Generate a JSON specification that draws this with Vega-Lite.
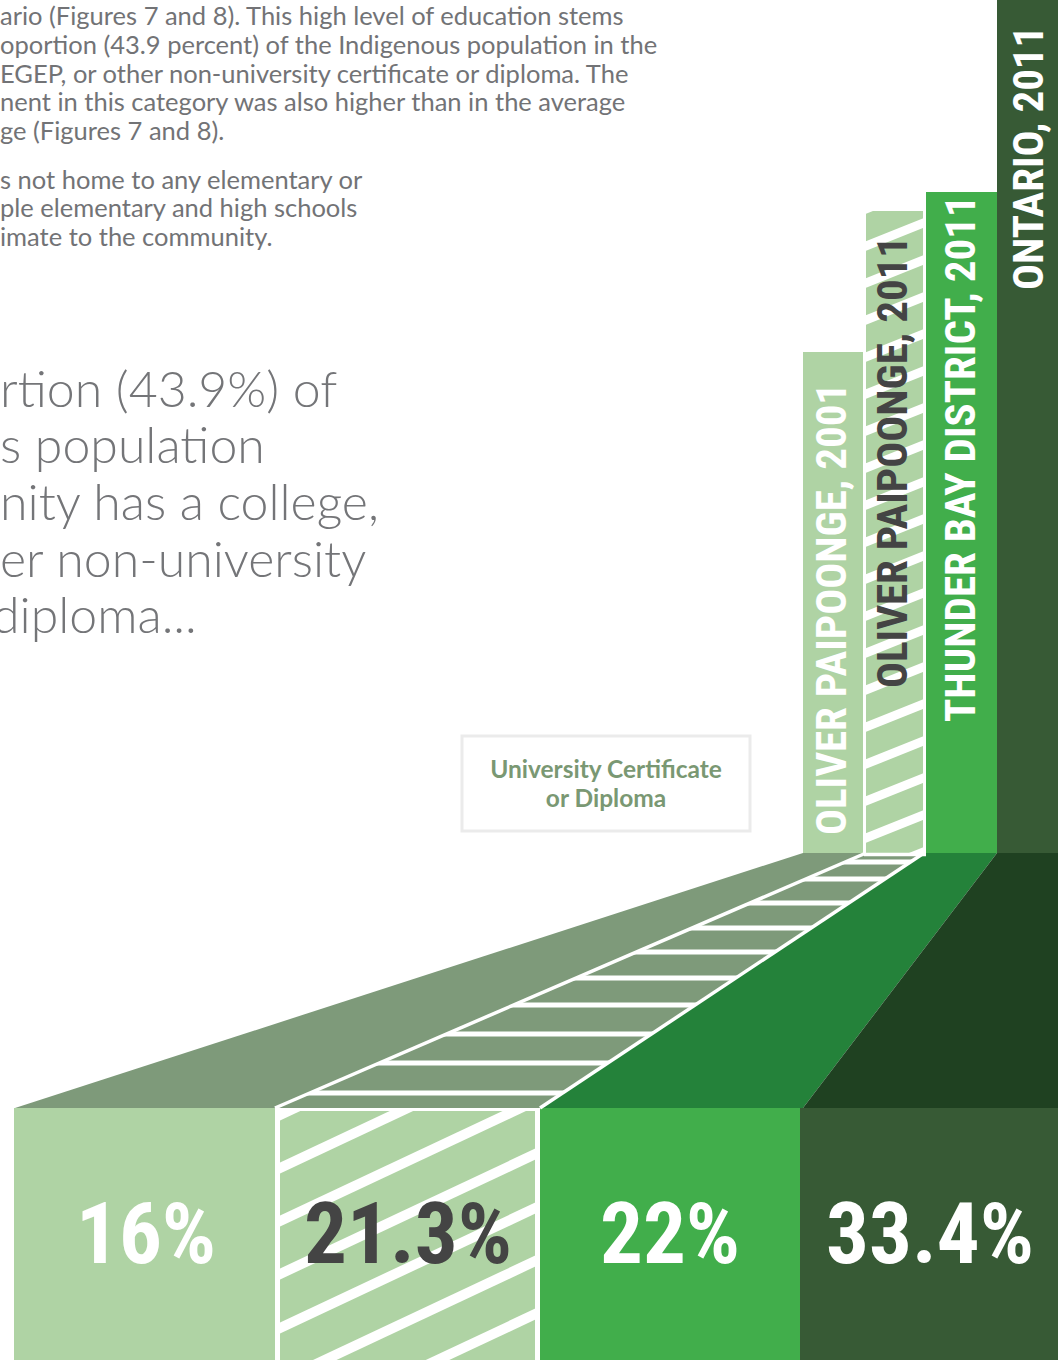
{
  "$schema": "https://vega.github.io/schema/vega-lite/v6.json",
  "width": 1058,
  "height": 1360,
  "padding": 0,
  "autosize": {"type": "none"},
  "background": "#FFFFFF",
  "config": {"view": {"stroke": null}},
  "resolve": {"scale": {"color": "independent"}},
  "datasets": {
    "para": [
      {"t": "ario (Figures 7 and 8). This high level of education stems", "x": 0, "y": 25},
      {"t": "oportion (43.9 percent) of the Indigenous population in the", "x": 0, "y": 54},
      {"t": "EGEP, or other non-university certificate or diploma.  The", "x": 0, "y": 83},
      {"t": "nent in this category was also higher than in the average", "x": 0, "y": 111},
      {"t": "ge (Figures 7 and 8).", "x": 0, "y": 140},
      {"t": "s not home to any elementary or", "x": 0, "y": 189},
      {"t": "ple elementary and high schools", "x": 0, "y": 217},
      {"t": "imate to the community.", "x": 0, "y": 246}
    ],
    "quote": [
      {"t": "rtion (43.9%) of", "x": 0, "y": 407},
      {"t": "s population", "x": 0, "y": 463},
      {"t": "nity has a college,", "x": 0, "y": 520},
      {"t": "er non-university", "x": 0, "y": 577},
      {"t": "diploma...", "x": -8, "y": 633}
    ],
    "box": [{"x": 462, "x2": 750, "y": 736, "y2": 831}],
    "boxText": [
      {"t": "University Certificate", "x": 606, "y": 778},
      {"t": "or Diploma", "x": 606, "y": 807}
    ],
    "series": [
      {"series": "Oliver Paipoonge, 2001", "label": "OLIVER PAIPOONGE, 2001", "pct": "16%", "value": 16, "pattern": "solid", "bx": 803, "bx2": 863, "btop": 352, "bbase": 853, "lx": 833, "ly": 835, "cx": 14, "cx2": 275, "ctop": 1108, "cbot": 1360, "px": 146, "py": 1263},
      {"series": "Oliver Paipoonge, 2011", "label": "OLIVER PAIPOONGE, 2011", "pct": "21.3%", "value": 21.3, "pattern": "hatched", "bx": 866, "bx2": 923, "btop": 211, "bbase": 853, "lx": 894, "ly": 688, "cx": 280, "cx2": 535, "ctop": 1111, "cbot": 1360, "px": 408, "py": 1263},
      {"series": "Thunder Bay District, 2011", "label": "THUNDER BAY DISTRICT, 2011", "pct": "22%", "value": 22, "pattern": "solid", "bx": 926, "bx2": 997, "btop": 192, "bbase": 853, "lx": 962, "ly": 722, "cx": 540, "cx2": 800, "ctop": 1108, "cbot": 1360, "px": 670, "py": 1263},
      {"series": "Ontario, 2011", "label": "ONTARIO, 2011", "pct": "33.4%", "value": 33.4, "pattern": "solid", "bx": 997, "bx2": 1058, "btop": 0, "bbase": 853, "lx": 1030, "ly": 290, "cx": 800, "cx2": 1058, "ctop": 1108, "cbot": 1360, "px": 930, "py": 1263}
    ],
    "barStripes": [
      {"x": 860, "y": 877.4, "x2": 930, "y2": 849.4},
      {"x": 860, "y": 840.4, "x2": 930, "y2": 812.4},
      {"x": 860, "y": 803.4, "x2": 930, "y2": 775.4},
      {"x": 860, "y": 766.4, "x2": 930, "y2": 738.4},
      {"x": 860, "y": 729.4, "x2": 930, "y2": 701.4},
      {"x": 860, "y": 692.4, "x2": 930, "y2": 664.4},
      {"x": 860, "y": 655.4, "x2": 930, "y2": 627.4},
      {"x": 860, "y": 618.4, "x2": 930, "y2": 590.4},
      {"x": 860, "y": 581.4, "x2": 930, "y2": 553.4},
      {"x": 860, "y": 544.4, "x2": 930, "y2": 516.4},
      {"x": 860, "y": 507.4, "x2": 930, "y2": 479.4},
      {"x": 860, "y": 470.4, "x2": 930, "y2": 442.4},
      {"x": 860, "y": 433.4, "x2": 930, "y2": 405.4},
      {"x": 860, "y": 396.4, "x2": 930, "y2": 368.4},
      {"x": 860, "y": 359.4, "x2": 930, "y2": 331.4},
      {"x": 860, "y": 322.4, "x2": 930, "y2": 294.4},
      {"x": 860, "y": 285.4, "x2": 930, "y2": 257.4},
      {"x": 860, "y": 248.4, "x2": 930, "y2": 220.4},
      {"x": 860, "y": 211.4, "x2": 930, "y2": 183.4}
    ],
    "colStripes": [
      {"x": 262, "y": 1123.5, "x2": 556, "y2": 985.3},
      {"x": 262, "y": 1176.5, "x2": 556, "y2": 1038.3},
      {"x": 262, "y": 1229.5, "x2": 556, "y2": 1091.3},
      {"x": 262, "y": 1282.5, "x2": 556, "y2": 1144.3},
      {"x": 262, "y": 1336.5, "x2": 556, "y2": 1198.3},
      {"x": 262, "y": 1389.5, "x2": 556, "y2": 1251.3},
      {"x": 262, "y": 1442.5, "x2": 556, "y2": 1304.3},
      {"x": 262, "y": 1495.5, "x2": 556, "y2": 1357.3}
    ],
    "floor": [
      {"strip": "s1", "y": 853, "x": 803, "x2": 866},
      {"strip": "s1", "y": 1108, "x": 15, "x2": 275},
      {"strip": "s2", "y": 853, "x": 866, "x2": 924},
      {"strip": "s2", "y": 1108, "x": 275, "x2": 540},
      {"strip": "s3", "y": 853, "x": 924, "x2": 997},
      {"strip": "s3", "y": 1108, "x": 540, "x2": 803},
      {"strip": "s4", "y": 853, "x": 997, "x2": 1058},
      {"strip": "s4", "y": 1108, "x": 803, "x2": 1058}
    ],
    "floorRules": [
      {"x": 240, "x2": 1058, "y": 862},
      {"x": 240, "x2": 1058, "y": 879},
      {"x": 240, "x2": 1058, "y": 903},
      {"x": 240, "x2": 1058, "y": 928},
      {"x": 240, "x2": 1058, "y": 952},
      {"x": 240, "x2": 1058, "y": 978},
      {"x": 240, "x2": 1058, "y": 1005},
      {"x": 240, "x2": 1058, "y": 1034},
      {"x": 240, "x2": 1058, "y": 1063},
      {"x": 240, "x2": 1058, "y": 1093}
    ],
    "edges": [
      {"x": 866, "y": 853, "x2": 275, "y2": 1108},
      {"x": 924, "y": 853, "x2": 540, "y2": 1108},
      {"x": 864, "y": 854.5, "x2": 926, "y2": 854.5}
    ]
  },
  "layer": [
    {
      "data": {"name": "para"},
      "mark": {"type": "text", "align": "left", "baseline": "alphabetic", "font": "Lato", "fontSize": 25.5, "color": "#727376"},
      "encoding": {
        "x": {"field": "x", "type": "quantitative", "scale": {"domain": [0, 1058], "nice": false, "zero": false}, "axis": null},
        "y": {"field": "y", "type": "quantitative", "scale": {"domain": [0, 1360], "reverse": true, "nice": false, "zero": false}, "axis": null},
        "text": {"field": "t"}
      }
    },
    {
      "data": {"name": "quote"},
      "mark": {"type": "text", "align": "left", "baseline": "alphabetic", "font": "Lato", "fontWeight": 300, "fontSize": 50, "color": "#747578"},
      "encoding": {
        "x": {"field": "x", "type": "quantitative", "scale": {"domain": [0, 1058], "nice": false, "zero": false}, "axis": null},
        "y": {"field": "y", "type": "quantitative", "scale": {"domain": [0, 1360], "reverse": true, "nice": false, "zero": false}, "axis": null},
        "text": {"field": "t"}
      }
    },
    {
      "data": {"name": "box"},
      "mark": {"type": "rect", "filled": false, "stroke": "#EBEBEB", "strokeWidth": 3},
      "encoding": {
        "x": {"field": "x", "type": "quantitative", "scale": {"domain": [0, 1058], "nice": false, "zero": false}, "axis": null},
        "x2": {"field": "x2"},
        "y": {"field": "y", "type": "quantitative", "scale": {"domain": [0, 1360], "reverse": true, "nice": false, "zero": false}, "axis": null},
        "y2": {"field": "y2"}
      }
    },
    {
      "data": {"name": "boxText"},
      "mark": {"type": "text", "align": "center", "baseline": "alphabetic", "font": "Lato", "fontWeight": "bold", "fontSize": 24.5, "color": "#7A9873"},
      "encoding": {
        "x": {"field": "x", "type": "quantitative", "scale": {"domain": [0, 1058], "nice": false, "zero": false}, "axis": null},
        "y": {"field": "y", "type": "quantitative", "scale": {"domain": [0, 1360], "reverse": true, "nice": false, "zero": false}, "axis": null},
        "text": {"field": "t"}
      }
    },
    {
      "data": {"name": "series"},
      "transform": [{"filter": "datum.pattern == 'hatched'"}],
      "mark": {"type": "rect", "color": "#AFD3A4"},
      "encoding": {
        "x": {"field": "bx", "type": "quantitative", "scale": {"domain": [0, 1058], "nice": false, "zero": false}, "axis": null},
        "x2": {"field": "bx2"},
        "y": {"field": "btop", "type": "quantitative", "scale": {"domain": [0, 1360], "reverse": true, "nice": false, "zero": false}, "axis": null},
        "y2": {"field": "bbase"}
      }
    },
    {
      "data": {"name": "barStripes"},
      "mark": {"type": "rule", "color": "#FFFFFF", "strokeWidth": 9, "clip": true},
      "encoding": {
        "x": {"field": "x", "type": "quantitative", "scale": {"domain": [0, 1058], "nice": false, "zero": false}, "axis": null},
        "x2": {"field": "x2"},
        "y": {"field": "y", "type": "quantitative", "scale": {"domain": [0, 1360], "reverse": true, "nice": false, "zero": false}, "axis": null},
        "y2": {"field": "y2"}
      }
    },
    {
      "data": {"name": "series"},
      "transform": [{"filter": "datum.pattern == 'solid'"}],
      "mark": {"type": "rect", "clip": true},
      "encoding": {
        "x": {"field": "bx", "type": "quantitative", "scale": {"domain": [0, 1058], "nice": false, "zero": false}, "axis": null},
        "x2": {"field": "bx2"},
        "y": {"field": "btop", "type": "quantitative", "scale": {"domain": [0, 1360], "reverse": true, "nice": false, "zero": false}, "axis": null},
        "y2": {"field": "bbase"},
        "color": {"field": "series", "type": "nominal", "legend": null, "scale": {"domain": ["Oliver Paipoonge, 2001", "Oliver Paipoonge, 2011", "Thunder Bay District, 2011", "Ontario, 2011"], "range": ["#AFD3A4", "#AFD3A4", "#41AE4B", "#375A35"]}}
      }
    },
    {
      "data": {"name": "series"},
      "mark": {"type": "text", "angle": 270, "align": "left", "baseline": "middle", "font": "Liberation Sans Narrow, Roboto Condensed, Arial Narrow, sans-serif", "fontWeight": "bold", "fontSize": 43},
      "encoding": {
        "x": {"field": "lx", "type": "quantitative", "scale": {"domain": [0, 1058], "nice": false, "zero": false}, "axis": null},
        "y": {"field": "ly", "type": "quantitative", "scale": {"domain": [0, 1360], "reverse": true, "nice": false, "zero": false}, "axis": null},
        "text": {"field": "label"},
        "color": {"field": "series", "type": "nominal", "legend": null, "scale": {"domain": ["Oliver Paipoonge, 2001", "Oliver Paipoonge, 2011", "Thunder Bay District, 2011", "Ontario, 2011"], "range": ["#FFFFFF", "#444444", "#FFFFFF", "#FFFFFF"]}}
      }
    },
    {
      "data": {"name": "series"},
      "transform": [{"filter": "datum.pattern == 'hatched'"}],
      "mark": {"type": "rect", "color": "#AFD3A4", "clip": true},
      "encoding": {
        "x": {"field": "cx", "type": "quantitative", "scale": {"domain": [0, 1058], "nice": false, "zero": false}, "axis": null},
        "x2": {"field": "cx2"},
        "y": {"field": "ctop", "type": "quantitative", "scale": {"domain": [0, 1360], "reverse": true, "nice": false, "zero": false}, "axis": null},
        "y2": {"field": "cbot"}
      }
    },
    {
      "data": {"name": "colStripes"},
      "mark": {"type": "rule", "color": "#FFFFFF", "strokeWidth": 10, "clip": true},
      "encoding": {
        "x": {"field": "x", "type": "quantitative", "scale": {"domain": [0, 1058], "nice": false, "zero": false}, "axis": null},
        "x2": {"field": "x2"},
        "y": {"field": "y", "type": "quantitative", "scale": {"domain": [0, 1360], "reverse": true, "nice": false, "zero": false}, "axis": null},
        "y2": {"field": "y2"}
      }
    },
    {
      "data": {"name": "series"},
      "transform": [{"filter": "datum.pattern == 'solid'"}],
      "mark": {"type": "rect", "clip": true},
      "encoding": {
        "x": {"field": "cx", "type": "quantitative", "scale": {"domain": [0, 1058], "nice": false, "zero": false}, "axis": null},
        "x2": {"field": "cx2"},
        "y": {"field": "ctop", "type": "quantitative", "scale": {"domain": [0, 1360], "reverse": true, "nice": false, "zero": false}, "axis": null},
        "y2": {"field": "cbot"},
        "color": {"field": "series", "type": "nominal", "legend": null, "scale": {"domain": ["Oliver Paipoonge, 2001", "Oliver Paipoonge, 2011", "Thunder Bay District, 2011", "Ontario, 2011"], "range": ["#AFD3A4", "#AFD3A4", "#41AE4B", "#375A35"]}}
      }
    },
    {
      "data": {"name": "series"},
      "mark": {"type": "text", "align": "center", "baseline": "alphabetic", "font": "Liberation Sans Narrow, Roboto Condensed, Arial Narrow, sans-serif", "fontWeight": "bold", "fontSize": 85},
      "encoding": {
        "x": {"field": "px", "type": "quantitative", "scale": {"domain": [0, 1058], "nice": false, "zero": false}, "axis": null},
        "y": {"field": "py", "type": "quantitative", "scale": {"domain": [0, 1360], "reverse": true, "nice": false, "zero": false}, "axis": null},
        "text": {"field": "pct"},
        "color": {"field": "series", "type": "nominal", "legend": null, "scale": {"domain": ["Oliver Paipoonge, 2001", "Oliver Paipoonge, 2011", "Thunder Bay District, 2011", "Ontario, 2011"], "range": ["#FFFFFF", "#444444", "#FFFFFF", "#FFFFFF"]}}
      }
    },
    {
      "data": {"name": "floor"},
      "transform": [{"filter": "datum.strip == 's2'"}],
      "mark": {"type": "area", "orient": "horizontal", "color": "#7E9A7A"},
      "encoding": {
        "y": {"field": "y", "type": "quantitative", "scale": {"domain": [0, 1360], "reverse": true, "nice": false, "zero": false}, "axis": null},
        "x": {"field": "x", "type": "quantitative", "scale": {"domain": [0, 1058], "nice": false, "zero": false}, "axis": null},
        "x2": {"field": "x2"},
        "detail": {"field": "strip"}
      }
    },
    {
      "data": {"name": "floorRules"},
      "mark": {"type": "rule", "color": "#FFFFFF", "strokeWidth": 5},
      "encoding": {
        "x": {"field": "x", "type": "quantitative", "scale": {"domain": [0, 1058], "nice": false, "zero": false}, "axis": null},
        "x2": {"field": "x2"},
        "y": {"field": "y", "type": "quantitative", "scale": {"domain": [0, 1360], "reverse": true, "nice": false, "zero": false}, "axis": null}
      }
    },
    {
      "data": {"name": "floor"},
      "transform": [{"filter": "datum.strip != 's2'"}],
      "mark": {"type": "area", "orient": "horizontal"},
      "encoding": {
        "y": {"field": "y", "type": "quantitative", "scale": {"domain": [0, 1360], "reverse": true, "nice": false, "zero": false}, "axis": null},
        "x": {"field": "x", "type": "quantitative", "scale": {"domain": [0, 1058], "nice": false, "zero": false}, "axis": null},
        "x2": {"field": "x2"},
        "color": {"field": "strip", "type": "nominal", "legend": null, "scale": {"domain": ["s1", "s3", "s4"], "range": ["#7E9A7A", "#24823A", "#1F4121"]}}
      }
    },
    {
      "data": {"name": "edges"},
      "mark": {"type": "rule", "color": "#FFFFFF", "strokeWidth": 3.5},
      "encoding": {
        "x": {"field": "x", "type": "quantitative", "scale": {"domain": [0, 1058], "nice": false, "zero": false}, "axis": null},
        "x2": {"field": "x2"},
        "y": {"field": "y", "type": "quantitative", "scale": {"domain": [0, 1360], "reverse": true, "nice": false, "zero": false}, "axis": null},
        "y2": {"field": "y2"}
      }
    }
  ]
}
